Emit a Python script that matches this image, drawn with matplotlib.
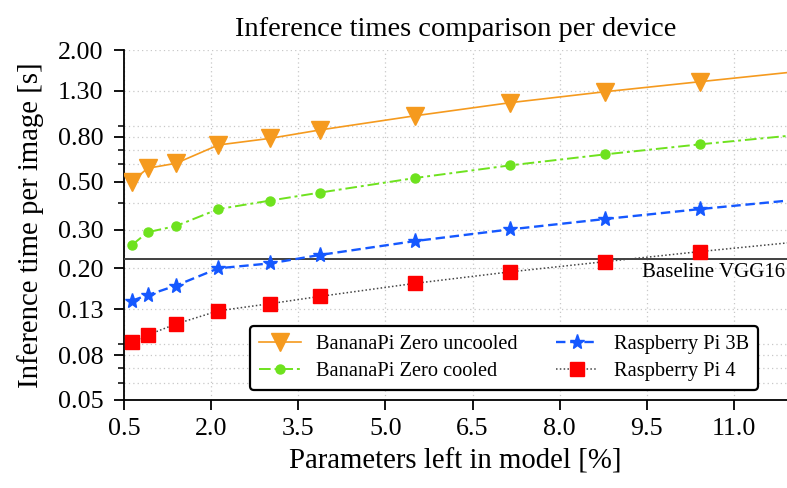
import matplotlib
matplotlib.use("Agg")
import matplotlib.pyplot as plt
from matplotlib.ticker import FixedLocator, FixedFormatter, NullFormatter

# ---- data ----
params_left = [0.63, 0.90, 1.39, 2.12, 3.01, 3.87, 5.51, 7.15, 8.79, 10.42, 12.06]
bananapi_uncooled = [0.50, 0.575, 0.606, 0.735, 0.788, 0.861, 1.00, 1.148, 1.289, 1.432, 1.59]
bananapi_cooled = [0.256, 0.293, 0.313, 0.374, 0.409, 0.445, 0.519, 0.593, 0.666, 0.740, 0.815]
rpi_3b = [0.1424, 0.151, 0.167, 0.2004, 0.211, 0.2306, 0.267, 0.302, 0.337, 0.374, 0.412]
rpi_4 = [0.0919, 0.0992, 0.1114, 0.128, 0.138, 0.149, 0.171, 0.193, 0.215, 0.239, 0.264]
baseline_vgg16 = 0.221

series_labels = ["BananaPi Zero uncooled", "BananaPi Zero cooled", "Raspberry Pi 3B", "Raspberry Pi 4"]
x_ticks = [0.5, 2.0, 3.5, 5.0, 6.5, 8.0, 9.5, 11.0]
x_tick_labels = ["0.5", "2.0", "3.5", "5.0", "6.5", "8.0", "9.5", "11.0"]
y_ticks = [0.05, 0.08, 0.13, 0.20, 0.30, 0.50, 0.80, 1.30, 2.00]
y_tick_labels = ["0.05", "0.08", "0.13", "0.20", "0.30", "0.50", "0.80", "1.30", "2.00"]
y_minor_ticks = [0.06, 0.07, 0.09, 0.4, 0.6, 0.7, 0.9]

plt.rcParams['font.family'] = ['Liberation Serif', 'DejaVu Serif']

fig = plt.figure(figsize=(7.87, 4.88), dpi=100)
ax = fig.add_axes([124.4 / 787, 88 / 488, (787 - 124.4) / 787, 350 / 488])

orange = '#F59A1E'
green = '#6EE21E'
blue = '#1558FF'
red = '#FF0000'
mk = slice(0, len(params_left) - 1)

ax.plot(params_left, bananapi_uncooled, color=orange, lw=1.2, ls='-',
        marker='v', ms=13, mfc=orange, mec=orange, markevery=mk,
        label=series_labels[0], zorder=5)
ax.plot(params_left, bananapi_cooled, color=green, lw=1.4, ls=(0, (6, 2, 1.5, 2)),
        marker='o', ms=6.5, mfc=green, mec=green, markevery=mk,
        label=series_labels[1], zorder=5)
ax.plot(params_left, rpi_3b, color=blue, lw=1.7, ls=(0, (4, 2)),
        marker='*', ms=11, mfc=blue, mec=blue, markevery=mk,
        label=series_labels[2], zorder=5)
ax.plot(params_left, rpi_4, color='#444444', lw=1.1, ls=(0, (1, 1.5)),
        marker='s', ms=9.5, mfc=red, mec=red, markevery=mk,
        label=series_labels[3], zorder=5)

ax.axhline(baseline_vgg16, color='#404040', lw=1.4, zorder=4)
ax.annotate("Baseline VGG16", xy=(1.0, baseline_vgg16), xycoords=('axes fraction', 'data'),
            xytext=(-1, -3), textcoords='offset points', ha='right', va='top', fontsize=15)

ax.set_yscale('log')
ax.set_xlim(0.5, 11.92)
ax.set_ylim(0.05, 2.0)

ax.xaxis.set_major_locator(FixedLocator(x_ticks))
ax.xaxis.set_major_formatter(FixedFormatter(x_tick_labels))
ax.yaxis.set_major_locator(FixedLocator(y_ticks))
ax.yaxis.set_major_formatter(FixedFormatter(y_tick_labels))
ax.yaxis.set_minor_locator(FixedLocator(y_minor_ticks))
ax.yaxis.set_minor_formatter(NullFormatter())
ax.xaxis.set_minor_locator(FixedLocator([]))

ax.grid(True, which='major', axis='both', color='#c8c8c8', ls=(0, (1, 2.5)), lw=0.9)
ax.grid(True, which='minor', axis='y', color='#c8c8c8', ls=(0, (1, 2.5)), lw=0.9)

for s in ['top', 'right']:
    ax.spines[s].set_visible(False)
for s in ['left', 'bottom']:
    ax.spines[s].set_linewidth(1.3)
    ax.spines[s].set_color('black')

ax.tick_params(axis='both', which='major', direction='out', length=7, width=1.3,
               labelsize=18.7, pad=6)
ax.tick_params(axis='y', which='minor', direction='out', length=4.5, width=1.1)
ax.tick_params(axis='y', which='major', pad=8)

ax.set_title("Inference times comparison per device", fontsize=20.5, pad=10)
ax.set_xlabel("Parameters left in model [%]", fontsize=20.7, labelpad=6)
ax.set_ylabel("Inference time per image [s]", fontsize=20.7, labelpad=10)

leg = ax.legend(ncol=2, loc='lower right', bbox_to_anchor=(0.956, 0.0286),
                borderaxespad=0, fontsize=14.7, frameon=True, fancybox=True,
                framealpha=1, edgecolor='black', handlelength=2.05,
                columnspacing=1.9, handletextpad=0.75, borderpad=0.45,
                labelspacing=0.35)
leg.get_frame().set_linewidth(1.6)
leg.set_zorder(10)

fig.savefig("out.png", dpi=100)
